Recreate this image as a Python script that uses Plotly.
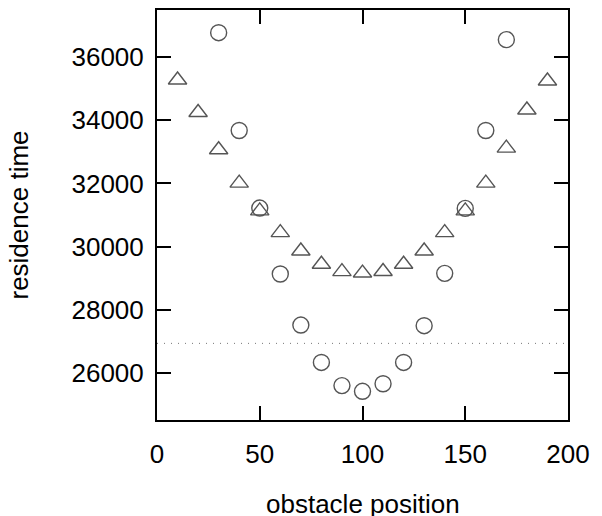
import plotly.graph_objects as go

# obstacle positions
tri_x = [10, 20, 30, 40, 50, 60, 70, 80, 90, 100, 110, 120, 130, 140, 150, 160, 170, 180, 190]
tri_y = [35280, 34250, 33070, 32010, 31130, 30440, 29860, 29440, 29205, 29160, 29210, 29440,
         29860, 30440, 31130, 32010, 33120, 34330, 35250]

circ_x = [30, 40, 50, 60, 70, 80, 90, 100, 110, 120, 130, 140, 150, 160, 170]
circ_y = [36780, 33680, 31220, 29130, 27510, 26325, 25590, 25410, 25650, 26325, 27490,
          29150, 31210, 33680, 36560]

reference_level = 26930

x_ticks = [0, 50, 100, 150, 200]
y_ticks = [26000, 28000, 30000, 32000, 34000, 36000]

FONT = "Liberation Sans"
mcol = "#555555"

fig = go.Figure()
fig.add_trace(go.Scatter(
    x=tri_x, y=tri_y, mode="markers",
    marker=dict(symbol="triangle-up-open", size=16, color=mcol, line=dict(width=1.4, color=mcol)),
    showlegend=False, cliponaxis=False))
fig.add_trace(go.Scatter(
    x=circ_x, y=circ_y, mode="markers",
    marker=dict(symbol="circle-open", size=16, color=mcol, line=dict(width=1.4, color=mcol)),
    showlegend=False, cliponaxis=False))

fig.add_hline(y=reference_level, line=dict(color="#777777", width=1, dash="1px,6px"))

axis_common = dict(
    showline=True, linecolor="black", linewidth=2, mirror="allticks",
    ticks="inside", ticklen=14, tickwidth=1.5, tickcolor="black",
    showgrid=False, zeroline=False, automargin=False,
    tickfont=dict(family=FONT, size=26, color="black"),
)

fig.update_layout(
    width=602, height=516,
    margin=dict(l=157, r=34, t=10, b=96),
    paper_bgcolor="white", plot_bgcolor="white",
    font=dict(family=FONT, size=26, color="black"),
    xaxis=dict(range=[0, 200], tickvals=x_ticks, ticktext=[str(v) for v in x_ticks],
               ticklabelstandoff=10, **axis_common),
    yaxis=dict(range=[24500, 37500], tickvals=y_ticks, ticktext=[str(v) for v in y_ticks],
               title=dict(text="residence time", font=dict(family=FONT, size=26), standoff=35),
               ticklabelstandoff=6, **axis_common),
    annotations=[dict(text="obstacle position", xref="paper", yref="paper", x=0.5, y=0,
                      xanchor="center", yanchor="top", yshift=-67, showarrow=False,
                      font=dict(family=FONT, size=26, color="black"))],
)

fig.write_html("out.html", config={"displayModeBar": False},
               post_script="document.body.style.margin='0';")
